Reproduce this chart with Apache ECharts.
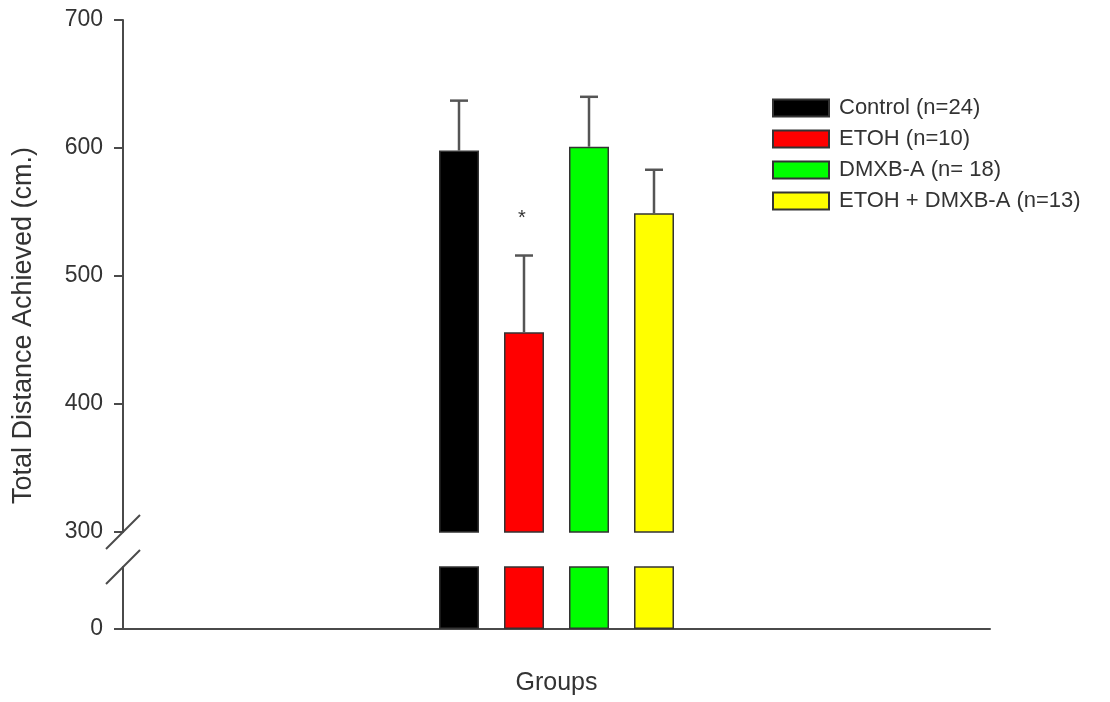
<!DOCTYPE html>
<html>
<head>
<meta charset="utf-8">
<script src="https://cdn.jsdelivr.net/npm/echarts@6/dist/echarts.min.js"></script>
<style>
html,body{margin:0;padding:0;background:#fff;}
#chart{width:1110px;height:702px;}
</style>
</head>
<body>
<div id="chart"></div>
<script>
// ---- data ----
const groupNames = ['Control (n=24)', 'ETOH (n=10)', 'DMXB-A (n= 18)', 'ETOH + DMXB-A (n=13)'];
const means = [598, 456, 601, 549];
const sems = [39, 60, 39, 34];
const sigMarks = ['', '*', '', ''];
const barColors = ['#000000', '#ff0000', '#00ff00', '#ffff00'];
const upperTicks = [300, 400, 500, 600, 700];
const lowerTicks = [0];
const xCategory = ['Groups'];

// ---- layout ----
const gridLeft = 123, gridRight = 120;
const barW = 40, gapPx = 25;
const FONT = 'Liberation Sans, Arial, sans-serif';
const axisColor = '#4a4a4a';
const textColor = '#333';

const chart = echarts.init(document.getElementById('chart'));

const series = [];
groupNames.forEach((name, i) => {
  const common = {
    name: name,
    type: 'bar',
    barWidth: barW,
    barGap: (gapPx / barW * 100) + '%',
    itemStyle: { color: barColors[i], borderColor: '#333', borderWidth: 1.5 },
    emphasis: { disabled: true },
    animation: false,
    clip: true
  };
  series.push(Object.assign({}, common, { xAxisIndex: 0, yAxisIndex: 0, data: [means[i]] }));
  series.push(Object.assign({}, common, { xAxisIndex: 1, yAxisIndex: 1, data: [means[i]] }));
});

series.push({
  type: 'custom',
  xAxisIndex: 0,
  yAxisIndex: 0,
  z: 5,
  animation: false,
  silent: true,
  data: means.map((m, i) => [0, m, sems[i], i]),
  encode: { x: 0, y: 1 },
  renderItem: function (params, api) {
    const i = api.value(3);
    const m = api.value(1);
    const e = api.value(2);
    const off = (i - (means.length - 1) / 2) * (barW + gapPx);
    const p0 = api.coord([0, m]);
    const p1 = api.coord([0, m + e]);
    const x = p0[0] + off;
    const style = { stroke: '#555', lineWidth: 2.5 };
    const children = [
      { type: 'line', shape: { x1: x, y1: p0[1], x2: x, y2: p1[1] }, style: style },
      { type: 'line', shape: { x1: x - 9, y1: p1[1], x2: x + 9, y2: p1[1] }, style: style }
    ];
    const s = sigMarks[i];
    if (s) {
      children.push({
        type: 'text',
        style: { text: s, x: x - 2, y: p1[1] - 37, fill: textColor, font: '20px ' + FONT, textAlign: 'center', textVerticalAlign: 'middle' }
      });
    }
    return { type: 'group', children: children };
  }
});

const option = {
  animation: false,
  backgroundColor: '#fff',
  legend: {
    data: groupNames,
    orient: 'vertical',
    left: 767,
    top: 92,
    itemWidth: 56,
    itemHeight: 17,
    itemGap: 9,
    icon: 'rect',
    selectedMode: false,
    textStyle: { fontFamily: FONT, fontSize: 22, color: textColor, padding: [0, 0, 0, 5] }
  },
  grid: [
    { left: gridLeft, right: gridRight, top: 20, height: 512 },
    { left: gridLeft, right: gridRight, top: 567, height: 62 }
  ],
  xAxis: [
    { type: 'category', gridIndex: 0, data: xCategory, show: false },
    {
      type: 'category', gridIndex: 1, data: xCategory,
      axisLine: { show: true, lineStyle: { color: axisColor, width: 2 } },
      axisTick: { show: false },
      axisLabel: { show: false },
      name: 'Groups', nameLocation: 'middle', nameGap: 42,
      nameTextStyle: { fontFamily: FONT, fontSize: 25, color: textColor }
    }
  ],
  yAxis: [
    {
      type: 'value', gridIndex: 0, min: upperTicks[0], max: upperTicks[upperTicks.length - 1], interval: 100,
      axisLine: { show: true, lineStyle: { color: axisColor, width: 2 } },
      axisTick: { show: true, length: 9, lineStyle: { color: axisColor, width: 2 } },
      axisLabel: { fontFamily: FONT, fontSize: 23, color: textColor, margin: 20 },
      splitLine: { show: false }
    },
    {
      type: 'value', gridIndex: 1, min: 0, max: 100, interval: 100,
      axisLine: { show: true, lineStyle: { color: axisColor, width: 2 } },
      axisTick: { show: true, length: 9, customValues: lowerTicks, lineStyle: { color: axisColor, width: 2 } },
      axisLabel: { fontFamily: FONT, fontSize: 23, color: textColor, margin: 20, customValues: lowerTicks },
      splitLine: { show: false }
    }
  ],
  series: series
};

chart.setOption(option);

// axis break marks and y-axis title
const yTop = chart.convertToPixel({ yAxisIndex: 0 }, upperTicks[0]);
const yLow = chart.convertToPixel({ yAxisIndex: 1 }, 100);
const yZero = chart.convertToPixel({ yAxisIndex: 1 }, 0);
const yMax = chart.convertToPixel({ yAxisIndex: 0 }, upperTicks[upperTicks.length - 1]);
const sl = 17;
const breakStyle = { stroke: axisColor, lineWidth: 2 };
chart.setOption({
  graphic: [
    { type: 'line', shape: { x1: gridLeft - sl, y1: yTop + sl, x2: gridLeft + sl, y2: yTop - sl }, style: breakStyle, z: 10 },
    { type: 'line', shape: { x1: gridLeft - sl, y1: yLow + sl, x2: gridLeft + sl, y2: yLow - sl }, style: breakStyle, z: 10 },
    {
      type: 'text', rotation: Math.PI / 2, x: 24, y: (yMax + yZero) / 2 + 1,
      style: { text: 'Total Distance Achieved (cm.)', font: '27px ' + FONT, fill: textColor, textAlign: 'center', textVerticalAlign: 'middle' }
    }
  ]
});
</script>
</body>
</html>
